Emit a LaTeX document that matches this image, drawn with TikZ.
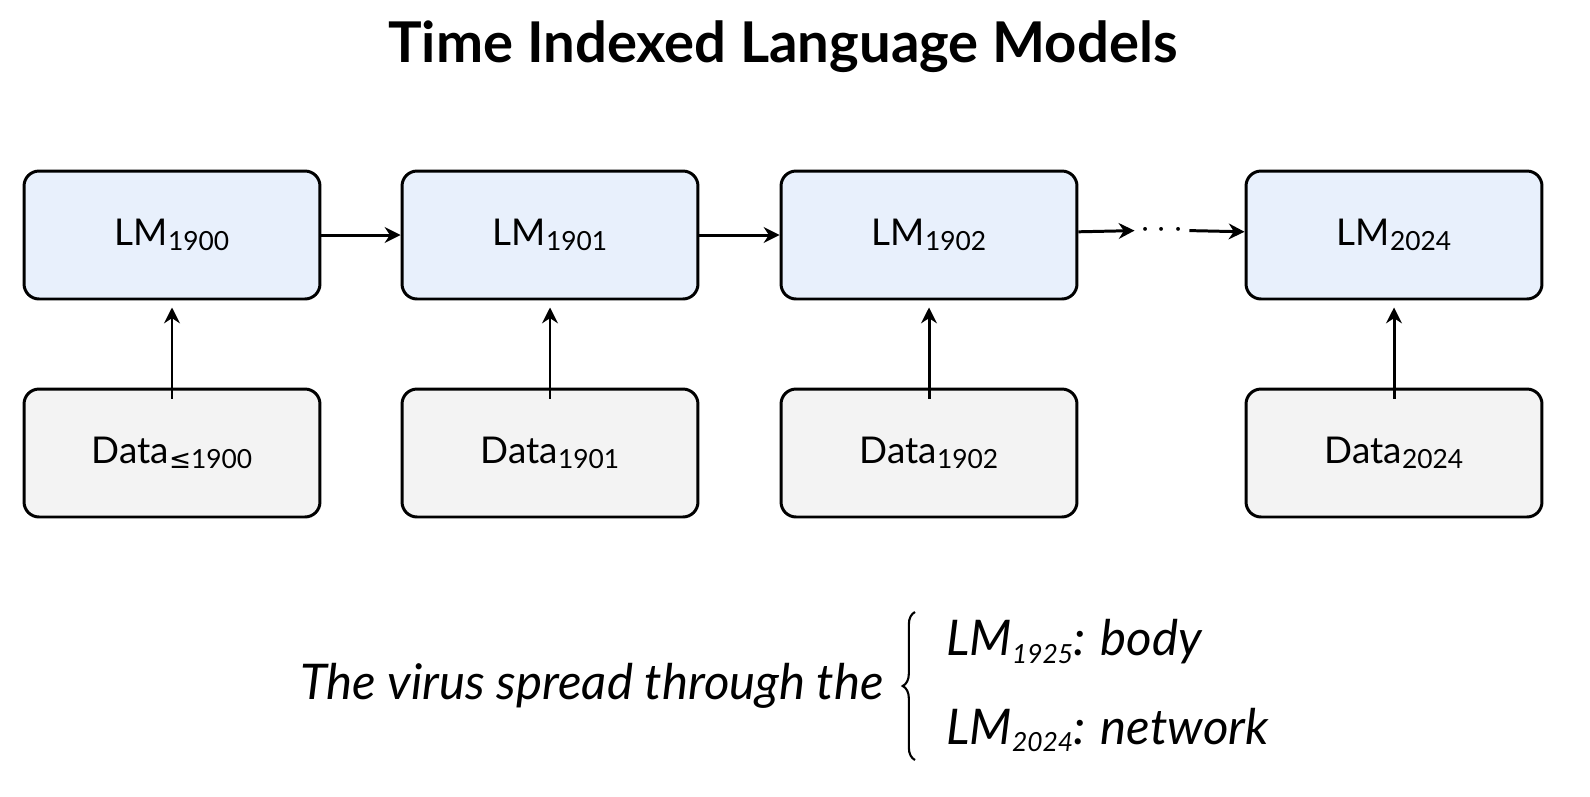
\documentclass[tikz,border=0pt]{standalone}
\usepackage{fontspec}
\setmainfont{Lato}
\newfontfamily\symf{DejaVu Sans}
\usetikzlibrary{arrows.meta,decorations.pathreplacing}
\definecolor{lmfill}{HTML}{E8F0FC}
\definecolor{datafill}{HTML}{F3F3F3}
\newcommand{\sbs}[1]{\raisebox{-0.3ex}{\fontsize{15}{15}\selectfont #1}}
\begin{document}
\begin{tikzpicture}[x=0.02cm,y=-0.02cm,
 box/.style={draw=black,line width=1.7pt,rounded corners=0.3cm,minimum width=5.92cm,minimum height=2.56cm,font=\fontsize{21}{24}\selectfont},
 lm/.style={box,fill=lmfill},
 dat/.style={box,fill=datafill},
 arr/.style={line width=1.7pt,-{Stealth[length=9pt,width=9pt]}}]
\useasboundingbox (0,0) rectangle (1590,796);
\node[font=\fontsize{32}{36}\selectfont\bfseries] (t) at (783,47) {Time Indexed Language Models};
\node[lm] (l1) at (172,235) {LM\sbs{1900}};
\node[lm] (l2) at (550,235) {LM\sbs{1901}};
\node[lm] (l3) at (929,235) {LM\sbs{1902}};
\node[lm] (l4) at (1394,235) {LM\sbs{2024}};
\node[dat] (d1) at (172,453) {Data\sbs{{\symf ≤}1900}};
\node[dat] (d2) at (550,453) {Data\sbs{1901}};
\node[dat] (d3) at (929,453) {Data\sbs{1902}};
\node[dat] (d4) at (1394,453) {Data\sbs{2024}};
\foreach \i in {1,2,3,4}{\draw[arr] ([yshift=-0.22cm]d\i.north) -- ([yshift=-0.14cm]l\i.south);}
\draw[arr] (l1) -- (l2);
\draw[arr] (l2) -- (l3);
\node[font=\fontsize{21}{24}\selectfont] (dots) at (1162,230) {$\cdots$};
\draw[arr] (l3) -- (dots);
\draw[arr] (dots) -- (l4);
\node[anchor=east,font=\fontsize{28}{32}\selectfont\itshape] (s) at (890,686) {The virus spread through the};
\coordinate (b1) at (915,760);
\coordinate (b2) at (915,612);
\draw[line width=1.2pt,decorate,decoration={brace,amplitude=7pt}] (b1) -- (b2);
\node[anchor=west,font=\fontsize{28}{32}\selectfont\itshape] (a1) at (940,642) {LM\sbs{1925}: body};
\node[anchor=west,font=\fontsize{28}{32}\selectfont\itshape] (a2) at (940,730) {LM\sbs{2024}: network};
\end{tikzpicture}
\end{document}
